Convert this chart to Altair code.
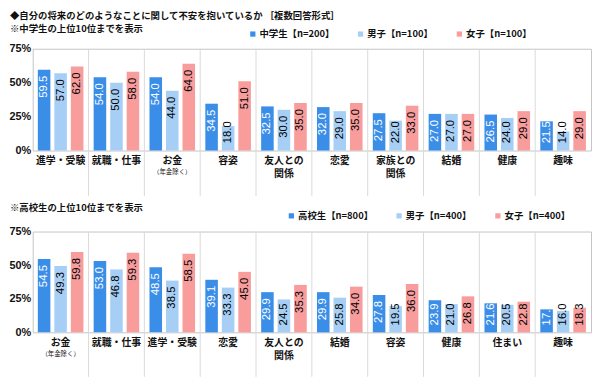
import altair as alt
import pandas as pd

JP = "Noto Sans CJK JP"
NUM = "Liberation Sans"

COLORS = ["#3b8ee8", "#a7cff5", "#f89c9c"]

title_text = "◆自分の将来のどのようなことに関して不安を抱いているか ［複数回答形式］"

# ---- 中学生 ----
top_sub = "※中学生の上位10位までを表示"
top_series = ["中学生【n=200】", "男子【n=100】", "女子【n=100】"]
top_cats = ["進学・受験", "就職・仕事", "お金", "容姿", "友人との\n関係", "恋愛",
            "家族との\n関係", "結婚", "健康", "趣味"]
top_all = [59.5, 54.0, 54.0, 34.5, 32.5, 32.0, 27.5, 27.0, 26.5, 21.5]
top_boys = [57.0, 50.0, 44.0, 18.0, 30.0, 29.0, 22.0, 27.0, 24.0, 14.0]
top_girls = [62.0, 58.0, 64.0, 51.0, 35.0, 35.0, 33.0, 27.0, 29.0, 29.0]

# ---- 高校生 ----
bot_sub = "※高校生の上位10位までを表示"
bot_series = ["高校生【n=800】", "男子【n=400】", "女子【n=400】"]
bot_cats = ["お金", "就職・仕事", "進学・受験", "恋愛", "友人との\n関係", "結婚",
            "容姿", "健康", "住まい", "趣味"]
bot_all = [54.5, 53.0, 48.5, 39.1, 29.9, 29.9, 27.8, 23.9, 21.6, 17.1]
bot_boys = [49.3, 46.8, 38.5, 33.3, 24.5, 25.8, 19.5, 21.0, 20.5, 16.0]
bot_girls = [59.8, 59.3, 58.5, 45.0, 35.3, 34.0, 36.0, 26.8, 22.8, 18.3]

note_cat = "お金"
note_text = "（年金除く）"

W = 565


def panel(cats, names, vals, H, headings, legend_x, legend_y, sep_len):
    rows = []
    for i, c in enumerate(cats):
        for s, v in zip(names, vals):
            rows.append({"cat": c, "series": s, "v": v[i]})
    df = pd.DataFrame(rows)

    xscale = alt.Scale(domain=cats, paddingInner=0, paddingOuter=0)

    def X(**kw):
        return alt.X("cat:N", scale=xscale, axis=None, **kw)

    xoff = alt.XOffset("series:N",
                       scale=alt.Scale(domain=names, paddingInner=0.24, paddingOuter=0.31))

    yaxis = alt.Axis(values=[0, 25, 50, 75], labelExpr="datum.value + '%'",
                     title=None, grid=False, domain=False, ticks=False,
                     labelPadding=2, labelFont=NUM, labelFontSize=11,
                     labelFontWeight="bold", labelColor="#111")
    yscale = alt.Scale(domain=[0, 75], nice=False)

    base = alt.Chart(df).encode(x=X(), xOffset=xoff)

    bars = base.mark_bar().encode(
        y=alt.Y("v:Q", scale=yscale, axis=yaxis),
        color=alt.Color("series:N",
                        scale=alt.Scale(domain=names, range=COLORS),
                        legend=alt.Legend(orient="none", legendX=legend_x, legendY=legend_y,
                                          direction="horizontal", title=None,
                                          symbolType="square", symbolSize=28,
                                          symbolStrokeWidth=0, labelFont=JP,
                                          labelFontSize=9.5, labelFontWeight="bold",
                                          labelColor="#111", columnPadding=21,
                                          labelOffset=2, labelLimit=300)),
    )

    labels = base.transform_calculate(pos="max(datum.v, 26)").mark_text(
        angle=270, align="right", baseline="middle", dx=-6,
        fontSize=11.5, font=NUM
    ).encode(
        y=alt.Y("pos:Q", scale=yscale, axis=yaxis),
        text=alt.Text("v:Q", format=".1f"),
        color=alt.condition(alt.datum.series == names[0], alt.value("white"), alt.value("black")),
    )

    seps = alt.Chart(pd.DataFrame({"cat": cats[1:]})).mark_rule(
        color="#d9d9d9", strokeWidth=1
    ).encode(
        x=X(bandPosition=0),
        y=alt.value(0),
        y2=alt.value(H + sep_len),
    )

    catlab = alt.Chart(pd.DataFrame({"cat": cats})).mark_text(
        baseline="top", lineBreak="\n", fontSize=10, fontWeight="bold",
        font=JP, lineHeight=13, color="#111"
    ).encode(
        x=X(),
        y=alt.value(H + 6),
        text="cat:N",
    )

    note = alt.Chart(pd.DataFrame({"cat": [note_cat], "t": [note_text]})).mark_text(
        baseline="top", fontSize=6.5, font=JP, color="#111"
    ).encode(
        x=X(),
        y=alt.value(H + 19),
        text="t:N",
    )

    layers = [seps, bars, labels, catlab, note]
    for txt, hx, hy in headings:
        layers.append(
            alt.Chart(pd.DataFrame({"t": [txt]})).mark_text(
                align="left", baseline="middle", fontSize=9.5, fontWeight="bold",
                font=JP, color="#111"
            ).encode(x=alt.value(hx), y=alt.value(hy), text="t:N")
        )

    return alt.layer(*layers).properties(width=W, height=H)


top = panel(top_cats, top_series, [top_all, top_boys, top_girls], 103,
            [(title_text, -23, -33), (top_sub, -23, -20)], 218, -20, 46)
bottom = panel(bot_cats, bot_series, [bot_all, bot_boys, bot_girls], 102,
               [(bot_sub, -23, -24)], 257, -21, 45)

chart = alt.vconcat(top, bottom, spacing=82, bounds="flush").resolve_scale(
    x="independent", y="independent", color="independent", xOffset="independent"
).properties(padding=0).configure_view(stroke="#c4c4c4")

chart.save("out.html", embed_options={"renderer": "svg", "actions": False})
